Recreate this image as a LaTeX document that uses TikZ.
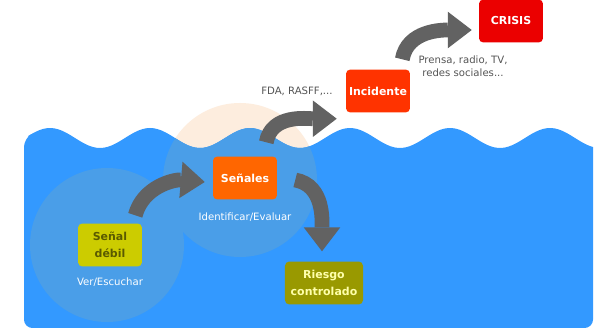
\documentclass[tikz,border=0pt]{standalone}
\usepackage{fontspec}
\setmainfont{DejaVu Sans}
\usetikzlibrary{arrows.meta,calc}
\definecolor{mar}{RGB}{51,153,255}
\definecolor{circulo}{RGB}{74,158,232}
\definecolor{melocoton}{RGB}{253,237,222}
\definecolor{flechagris}{RGB}{98,98,98}
\definecolor{amarillo}{RGB}{204,204,0}
\definecolor{oliva}{RGB}{153,153,0}
\definecolor{naranja}{RGB}{255,102,0}
\definecolor{rojizo}{RGB}{255,51,0}
\definecolor{rojo}{RGB}{235,0,0}
\definecolor{textodebil}{RGB}{90,90,0}
\definecolor{textoriesgo}{RGB}{255,255,170}
\definecolor{textogris}{RGB}{85,85,85}
\tikzset{
  caja/.style={rounded corners=3pt, inner sep=0pt, minimum width=45.5pt, minimum height=30.5pt,
    align=center, text=white, font=\fontsize{7.8}{12}\selectfont\bfseries},
  flecha/.style={draw=flechagris, line width=10.5pt, -{Triangle[length=17pt,width=26pt,line width=0pt]}},
  nota/.style={align=center, font=\fontsize{7.2}{9.2}\selectfont}
}
\newcommand{\olas}{plot[domain=24:593,samples=150] (\x,{195+10*cos(3.6*(\x-50))}) [rounded corners=6pt] -- (593,5) -- (24,5) -- cycle}
\begin{document}
\begin{tikzpicture}[x=0.25mm,y=0.25mm]
        \fill[white] (0,0) rectangle (608,333);
        \useasboundingbox (0,0) rectangle (608,333);
        % mar y circulos
        \fill[melocoton] (240,153) circle (77);
        \fill[mar] \olas;
        \fill[circulo] (107,88) circle (77);
        \begin{scope}
            \clip \olas;
            \fill[circulo] (240,153) circle (77);
        \end{scope}
        % cajas
        \node[caja, fill=amarillo, text=textodebil] (debil) at (110,88) {Señal\\débil};
        \node[caja, fill=naranja] (senales) at (245,155) {Señales};
        \node[caja, fill=oliva, minimum width=55.5pt, text=textoriesgo] (riesgo) at (324,50) {Riesgo\\controlado};
        \node[caja, fill=rojizo] (incidente) at (378,242) {Incidente};
        \node[caja, fill=rojo] (crisis) at (511,312) {CRISIS};
        % textos
        \node[nota, text=white] (ver) at (110,51) {Ver/Escuchar};
        \node[nota, text=white] (ident) at (245,116) {Identificar/Evaluar};
        \node[nota, text=textogris] (fda) at (297,242) {FDA, RASFF,...};
        \node[nota, text=textogris] (prensa) at (463,267) {Prensa, radio, TV,\\redes sociales...};
        % flechas
        \draw[flecha] ($(debil.north east)+(-7,8)$) to[out=75,in=175] ($(senales.west)+(-8,-4)$);
        \draw[flecha] ($(senales.north east)+(-11,14)$) to[out=80,in=180] ($(incidente.south west)+(-9,-6)$);
        \draw[flecha] ($(incidente.north east)+(-8,10)$) to[out=80,in=180] ($(crisis.west)+(-7,-9)$);
        \draw[flecha] ($(senales.east)+(18,-2)$) to[out=-10,in=90] ($(riesgo.north)+(-2,10)$);
\end{tikzpicture}
\end{document}
